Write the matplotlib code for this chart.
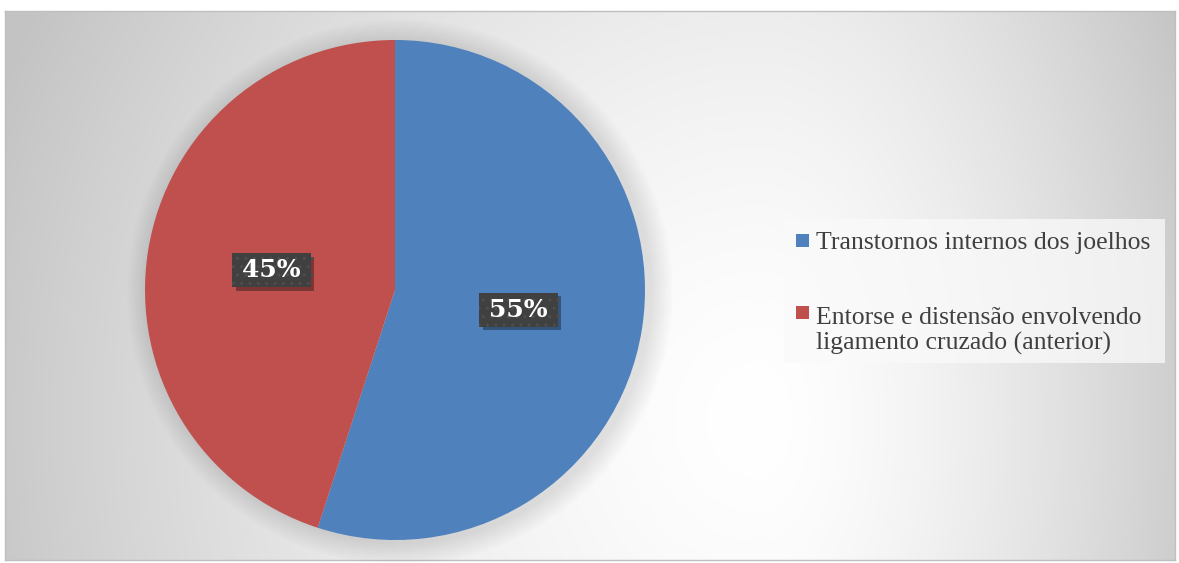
import numpy as np
import matplotlib
matplotlib.use("Agg")
import matplotlib.pyplot as plt
from matplotlib.patches import Rectangle, Circle
import matplotlib.patheffects as pe

# ---- data ----
categories = ["Transtornos internos dos joelhos",
              "Entorse e distensão envolvendo\nligamento cruzado (anterior)"]
values = [55, 45]
colors = ["#4f81bd", "#c0504d"]

W, H = 1179, 563
fig = plt.figure(figsize=(W / 100, H / 100), dpi=100)
fig.patch.set_facecolor("white")

# ---- chart area background (radial-ish gradient), pixel coords ----
x0, y0, x1, y1 = 5, 11, 1175, 560
bg = fig.add_axes([x0 / W, 1 - y1 / H, (x1 - x0) / W, (y1 - y0) / H])
xs = np.arange(x0, x1) + 0.5
ys = np.arange(y0, y1) + 0.5
X, Y = np.meshgrid(xs, ys)
cx, cy = 760, 420
rx = np.where(X < cx, 820.0, 480.0)
ry = 900.0
d = np.clip(np.sqrt(((X - cx) / rx) ** 2 + ((Y - cy) / ry) ** 2), 0, 1)
v = 1 - (1 - 0.765) * d ** 1.5
bg.imshow(np.dstack([v, v, v]), extent=(x0, x1, y1, y0), aspect="auto",
          interpolation="bilinear", zorder=0)
bg.set_xlim(x0, x1)
bg.set_ylim(y1, y0)
bg.set_xticks([])
bg.set_yticks([])
for s in bg.spines.values():
    s.set_color("#bfbfbf")
    s.set_linewidth(1)

# ---- legend (drawn in pixel coords of bg axes) ----
bg.add_patch(Rectangle((784, 219), 381, 144, facecolor="#fafafa", alpha=0.75,
                       edgecolor="none", zorder=2))
leg_font = dict(family="Liberation Serif", size=18.5, color="#404040")
entry_baselines = [249, 324]
square_tops = [234, 306]
line_gap = 26
for lab, col, base, sq in zip(categories, colors, entry_baselines, square_tops):
    bg.add_patch(Rectangle((796, sq), 12.5, 13, facecolor=col, edgecolor="none", zorder=3))
    for i, line in enumerate(lab.split("\n")):
        bg.text(816, base + i * line_gap, line, va="baseline", ha="left", zorder=4, **leg_font)

# ---- pie ----
pcx, pcy, R = 395, 290, 250
ax = fig.add_axes([(pcx - R) / W, (H - pcy - R) / H, 2 * R / W, 2 * R / H])
ax.set_facecolor("none")

# soft shadow
for k in range(9):
    r = 1.0 + 0.01 * (k + 1)
    ax.add_patch(Circle((0.02, -0.008), r, facecolor="black", alpha=0.012,
                        edgecolor="none", zorder=0, clip_on=False))

wedges, texts, autotexts = ax.pie(values, colors=colors, startangle=90,
                                  counterclock=False, autopct="\u2009%d%%\u2009",
                                  pctdistance=0.5,
                                  wedgeprops=dict(edgecolor="none"))
for w in wedges:
    w.set_zorder(2)
ax.set_xlim(-1, 1)
ax.set_ylim(-1, 1)
ax.set_aspect("equal")
ax.axis("off")

for t in autotexts:
    t.set_fontfamily("DejaVu Serif")
    t.set_fontweight("bold")
    t.set_fontsize(18)
    t.set_color("white")
    t.set_zorder(6)
    t.set_bbox(dict(boxstyle="square,pad=0.2", facecolor="#404040",
                    edgecolor="#4e4e4e", linewidth=0, hatch=".."))
    t.get_bbox_patch().set_path_effects(
        [pe.SimplePatchShadow(offset=(2.5, -2.5), shadow_rgbFace="black", alpha=0.35),
         pe.Normal()])

fig.savefig("out.png", dpi=100, facecolor="white")
